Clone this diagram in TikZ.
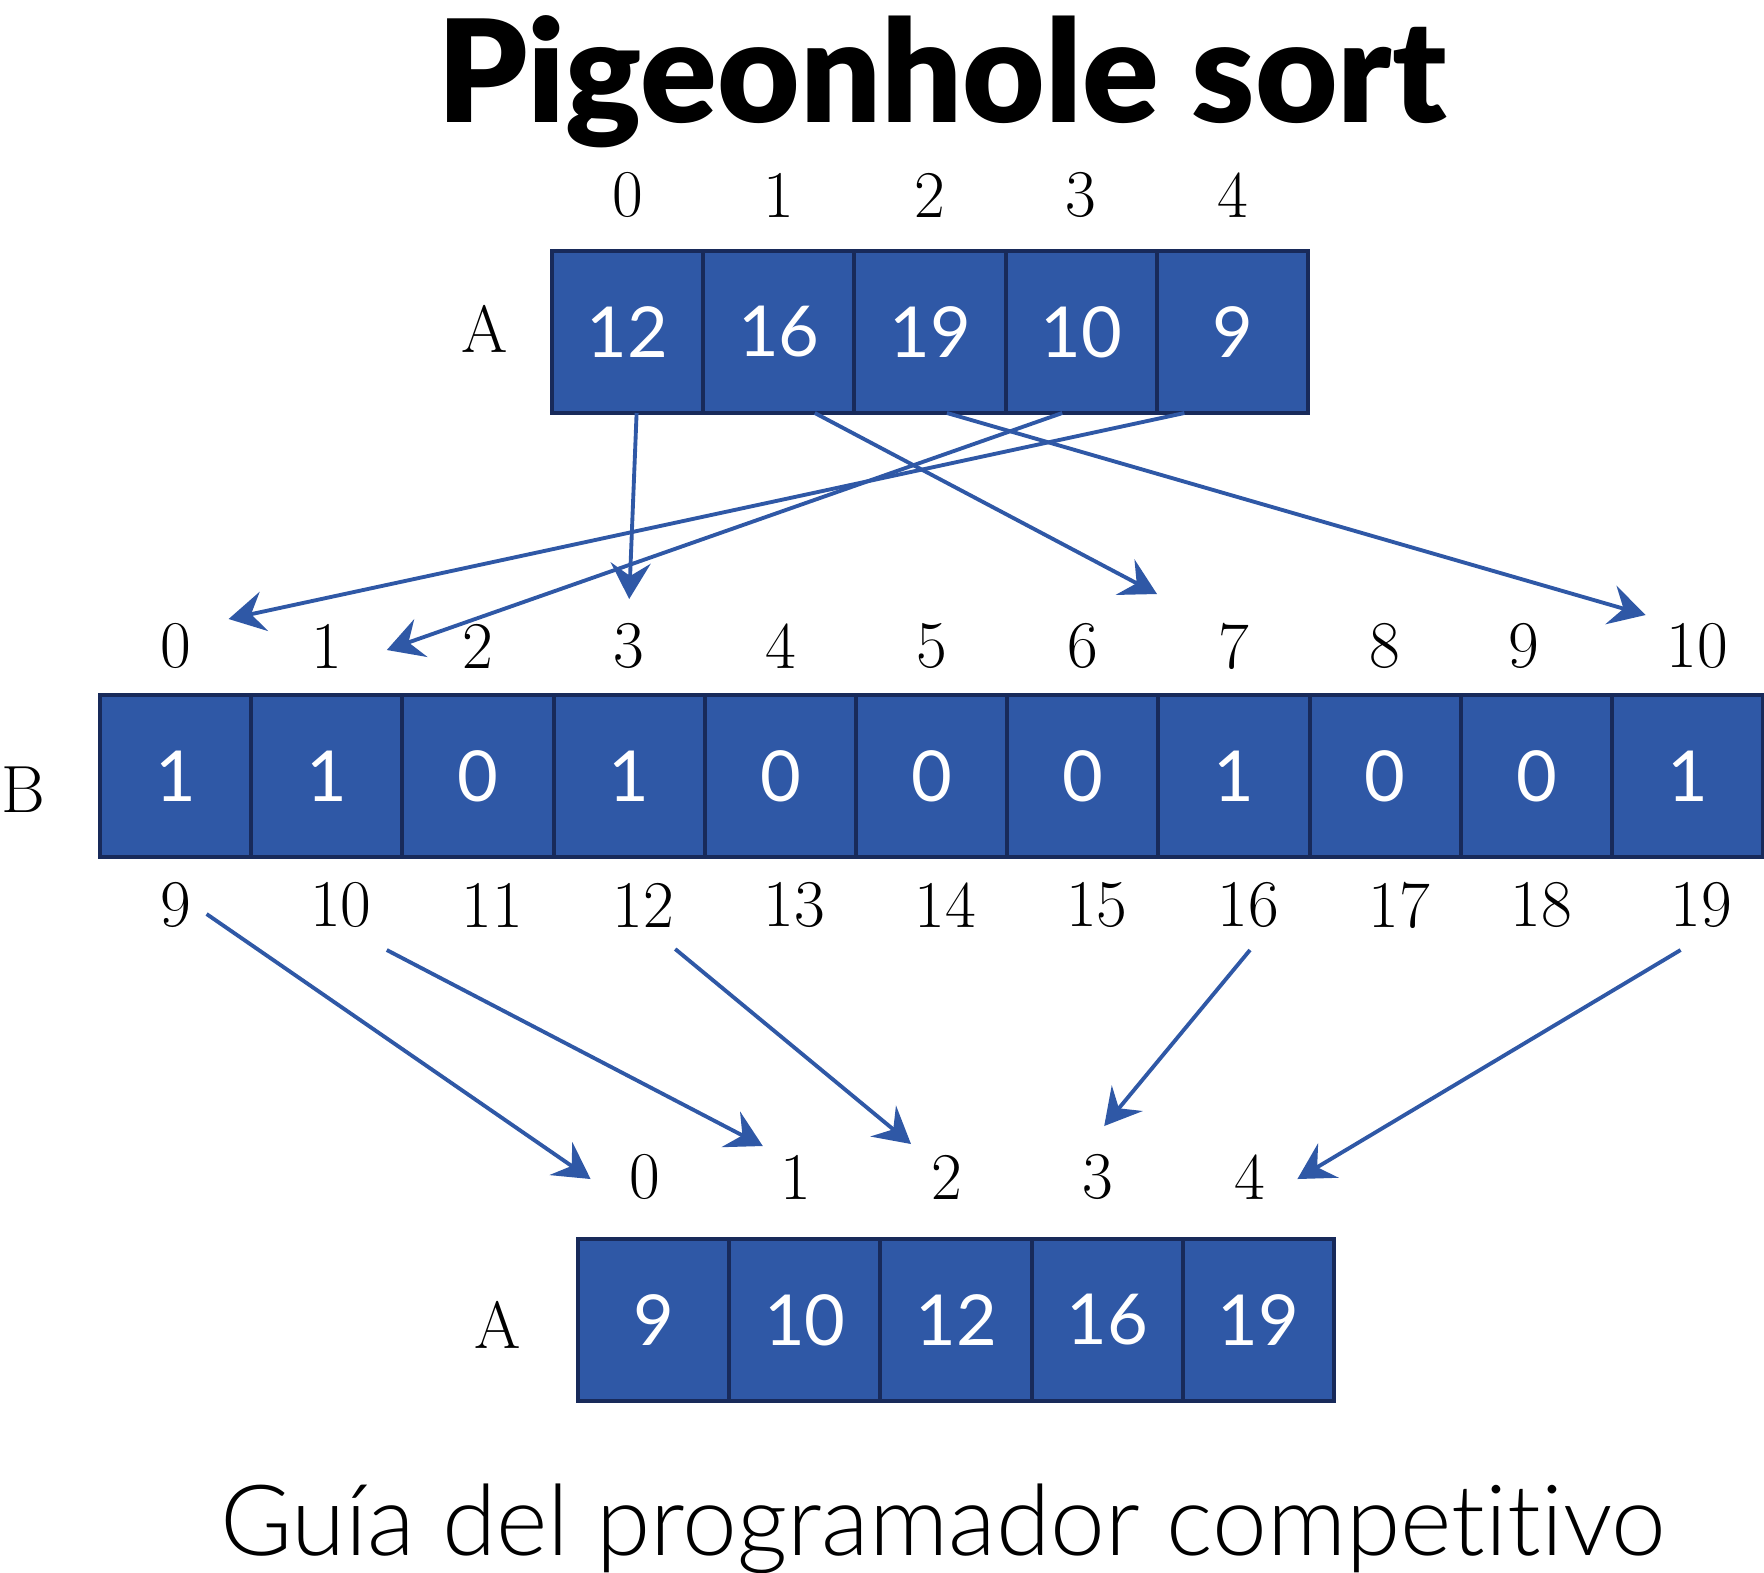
\documentclass[tikz,border=0pt]{standalone}
\usepackage{fontspec}
\usepackage{xcolor}
\usepackage{tikz}
\usetikzlibrary{positioning,arrows.meta}

\newfontfamily\valfont{Lato}
\newfontfamily\titlefont{Lato Black}
\newfontfamily\subtitlefont[Ligatures=NoCommon]{Lato Light}

\definecolor{cellfill}{RGB}{47,88,166}
\definecolor{cellline}{RGB}{24,42,90}

\begin{document}
\begin{tikzpicture}[
    node distance=0pt,
    cell/.style={draw=cellline, fill=cellfill, line width=1.1pt, outer sep=0pt,
        minimum width=1.512cm, minimum height=1.62cm, inner sep=0pt,
        text=white, font=\valfont\fontsize{20}{24}\selectfont},
    idx/.style={inner sep=0pt, font=\fontsize{19}{22}\selectfont},
    lbl/.style={inner sep=0pt, font=\fontsize{19}{22}\selectfont},
    link/.style={draw=cellfill, line width=1.1pt,
        -{Stealth[length=0.36cm, width=0.40cm, inset=0.13cm]}}
]
\useasboundingbox (0,0) rectangle (17.64,-15.72);

% Title
\node[anchor=base, inner sep=0pt, font=\titlefont\fontsize{40.5}{48}\selectfont] (title) at (9.42,-1.22) {Pigeonhole sort};

% Array A
\node[cell] (a0) at (6.276,-3.32) {12};
\node[cell, right=of a0] (a1) {16};
\node[cell, right=of a1] (a2) {19};
\node[cell, right=of a2] (a3) {10};
\node[cell, right=of a3] (a4) {9};
\node[lbl] (la) at (4.85,-3.29) {A};

\node[idx] (ia0) at ([yshift=0.56cm]a0.north) {0};
\node[idx] (ia1) at ([yshift=0.56cm]a1.north) {1};
\node[idx] (ia2) at ([yshift=0.56cm]a2.north) {2};
\node[idx] (ia3) at ([yshift=0.56cm]a3.north) {3};
\node[idx] (ia4) at ([yshift=0.56cm]a4.north) {4};

% Array B
\node[cell] (b0) at (1.756,-7.76) {1};
\node[cell, right=of b0] (b1) {1};
\node[cell, right=of b1] (b2) {0};
\node[cell, right=of b2] (b3) {1};
\node[cell, right=of b3] (b4) {0};
\node[cell, right=of b4] (b5) {0};
\node[cell, right=of b5] (b6) {0};
\node[cell, right=of b6] (b7) {1};
\node[cell, right=of b7] (b8) {0};
\node[cell, right=of b8] (b9) {0};
\node[cell, right=of b9] (b10) {1};
\node[lbl] (lb) at (0.23,-7.90) {B};

\node[idx] (ib0) at ([yshift=0.49cm]b0.north) {0};
\node[idx] (ib1) at ([yshift=0.49cm]b1.north) {1};
\node[idx] (ib2) at ([yshift=0.49cm]b2.north) {2};
\node[idx] (ib3) at ([yshift=0.49cm]b3.north) {3};
\node[idx] (ib4) at ([yshift=0.49cm]b4.north) {4};
\node[idx] (ib5) at ([yshift=0.49cm]b5.north) {5};
\node[idx] (ib6) at ([yshift=0.49cm]b6.north) {6};
\node[idx] (ib7) at ([yshift=0.49cm]b7.north) {7};
\node[idx] (ib8) at ([yshift=0.49cm]b8.north) {8};
\node[idx] (ib9) at ([yshift=0.49cm, xshift=-0.13cm]b9.north) {9};
\node[idx] (ib10) at ([yshift=0.49cm, xshift=0.10cm]b10.north) {10};

\node[idx] (jb0) at ([yshift=-0.48cm]b0.south) {9};
\node[idx] (jb1) at ([yshift=-0.48cm, xshift=0.14cm]b1.south) {10};
\node[idx] (jb2) at ([yshift=-0.48cm, xshift=0.14cm]b2.south) {11};
\node[idx] (jb3) at ([yshift=-0.48cm, xshift=0.14cm]b3.south) {12};
\node[idx] (jb4) at ([yshift=-0.48cm, xshift=0.14cm]b4.south) {13};
\node[idx] (jb5) at ([yshift=-0.48cm, xshift=0.14cm]b5.south) {14};
\node[idx] (jb6) at ([yshift=-0.48cm, xshift=0.14cm]b6.south) {15};
\node[idx] (jb7) at ([yshift=-0.48cm, xshift=0.14cm]b7.south) {16};
\node[idx] (jb8) at ([yshift=-0.48cm, xshift=0.14cm]b8.south) {17};
\node[idx] (jb9) at ([yshift=-0.48cm, xshift=0.05cm]b9.south) {18};
\node[idx] (jb10) at ([yshift=-0.48cm, xshift=0.14cm]b10.south) {19};

% Sorted array A
\node[cell] (c0) at (6.536,-13.20) {9};
\node[cell, right=of c0] (c1) {10};
\node[cell, right=of c1] (c2) {12};
\node[cell, right=of c2] (c3) {16};
\node[cell, right=of c3] (c4) {19};
\node[lbl] (lc) at (4.98,-13.25) {A};

\node[idx] (ic0) at ([yshift=0.62cm, xshift=-0.09cm]c0.north) {0};
\node[idx] (ic1) at ([yshift=0.62cm, xshift=-0.09cm]c1.north) {1};
\node[idx] (ic2) at ([yshift=0.62cm, xshift=-0.09cm]c2.north) {2};
\node[idx] (ic3) at ([yshift=0.62cm, xshift=-0.09cm]c3.north) {3};
\node[idx] (ic4) at ([yshift=0.62cm, xshift=-0.09cm]c4.north) {4};

% Arrows A -> B
\draw[link] ([xshift=0.09cm]a0.south) -- ([yshift=0.47cm]ib3.center);
\draw[link] ([xshift=0.36cm]a1.south) -- ([xshift=-0.77cm, yshift=0.52cm]ib7.center);
\draw[link] ([xshift=0.17cm]a2.south) -- ([xshift=-0.52cm, yshift=0.31cm]ib10.center);
\draw[link] ([xshift=-0.19cm]a3.south) -- ([xshift=0.60cm, yshift=-0.04cm]ib1.center);
\draw[link] ([xshift=-0.48cm]a4.south) -- ([xshift=0.53cm, yshift=0.27cm]ib0.center);

% Arrows B -> sorted A
\draw[link] ([xshift=0.31cm, yshift=-0.09cm]jb0.center) -- ([xshift=-0.54cm, yshift=-0.02cm]ic0.center);
\draw[link] ([xshift=0.46cm, yshift=-0.45cm]jb1.center) -- ([xshift=-0.33cm, yshift=0.31cm]ic1.center);
\draw[link] ([xshift=0.32cm, yshift=-0.44cm]jb3.center) -- ([xshift=-0.36cm, yshift=0.33cm]ic2.center);
\draw[link] ([xshift=0.02cm, yshift=-0.45cm]jb7.center) -- ([xshift=0.06cm, yshift=0.51cm]ic3.center);
\draw[link] ([xshift=-0.21cm, yshift=-0.45cm]jb10.center) -- ([xshift=0.48cm, yshift=-0.02cm]ic4.center);

% Footer
\node[anchor=base, inner sep=0pt, font=\subtitlefont\fontsize{28}{34}\selectfont] (subtitle) at (9.43,-15.55) {Guía del programador competitivo};

\end{tikzpicture}
\end{document}
